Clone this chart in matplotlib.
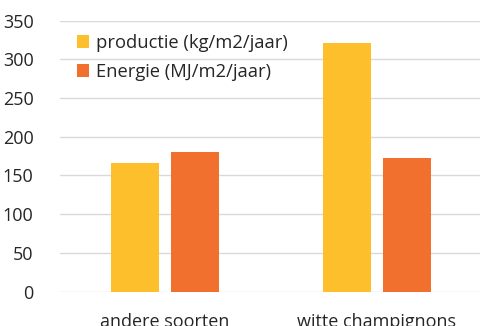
import matplotlib
matplotlib.use("Agg")
import matplotlib.pyplot as plt
import numpy as np

categories = ["andere soorten", "witte champignons"]
productie = [166, 321]
energie = [180, 172]
series_labels = ["productie (kg/m2/jaar)", "Energie (MJ/m2/jaar)"]
yticks = [0, 50, 100, 150, 200, 250, 300, 350]

plt.rcParams["font.family"] = ["Open Sans", "DejaVu Sans"]

fig = plt.figure(figsize=(4.8, 3.26), dpi=100)
ax = fig.add_axes([60 / 480, 1 - 291.7 / 326, 420 / 480, 271.2 / 326])

x = np.arange(len(categories))
width = 0.226
offset = 0.1415
ax.bar(x - offset, productie, width, color="#FDBF2B", label=series_labels[0])
ax.bar(x + offset, energie, width, color="#F2702E", label=series_labels[1])

ax.set_xlim(-0.495, 1.486)
ax.set_ylim(0, 350)
ax.set_yticks(yticks)
ax.set_yticklabels([str(v) for v in yticks], fontsize=13, color="#262626")
ax.set_xticks(x)
ax.set_xticklabels(categories, fontsize=13, color="#262626")
ax.tick_params(axis="both", length=0)
ax.tick_params(axis="y", pad=19)
ax.tick_params(axis="x", pad=15)
ax.grid(axis="y", color="#D9D9D9", linewidth=1)
ax.set_axisbelow(True)
for s in ax.spines.values():
    s.set_visible(False)

ax.legend(loc="upper left", bbox_to_anchor=(0.0, 1.01), frameon=False,
          fontsize=13.2, handlelength=0.7, handleheight=0.7,
          handletextpad=0.35, labelspacing=0.6, labelcolor="#262626")

fig.savefig("out.png", dpi=100)
